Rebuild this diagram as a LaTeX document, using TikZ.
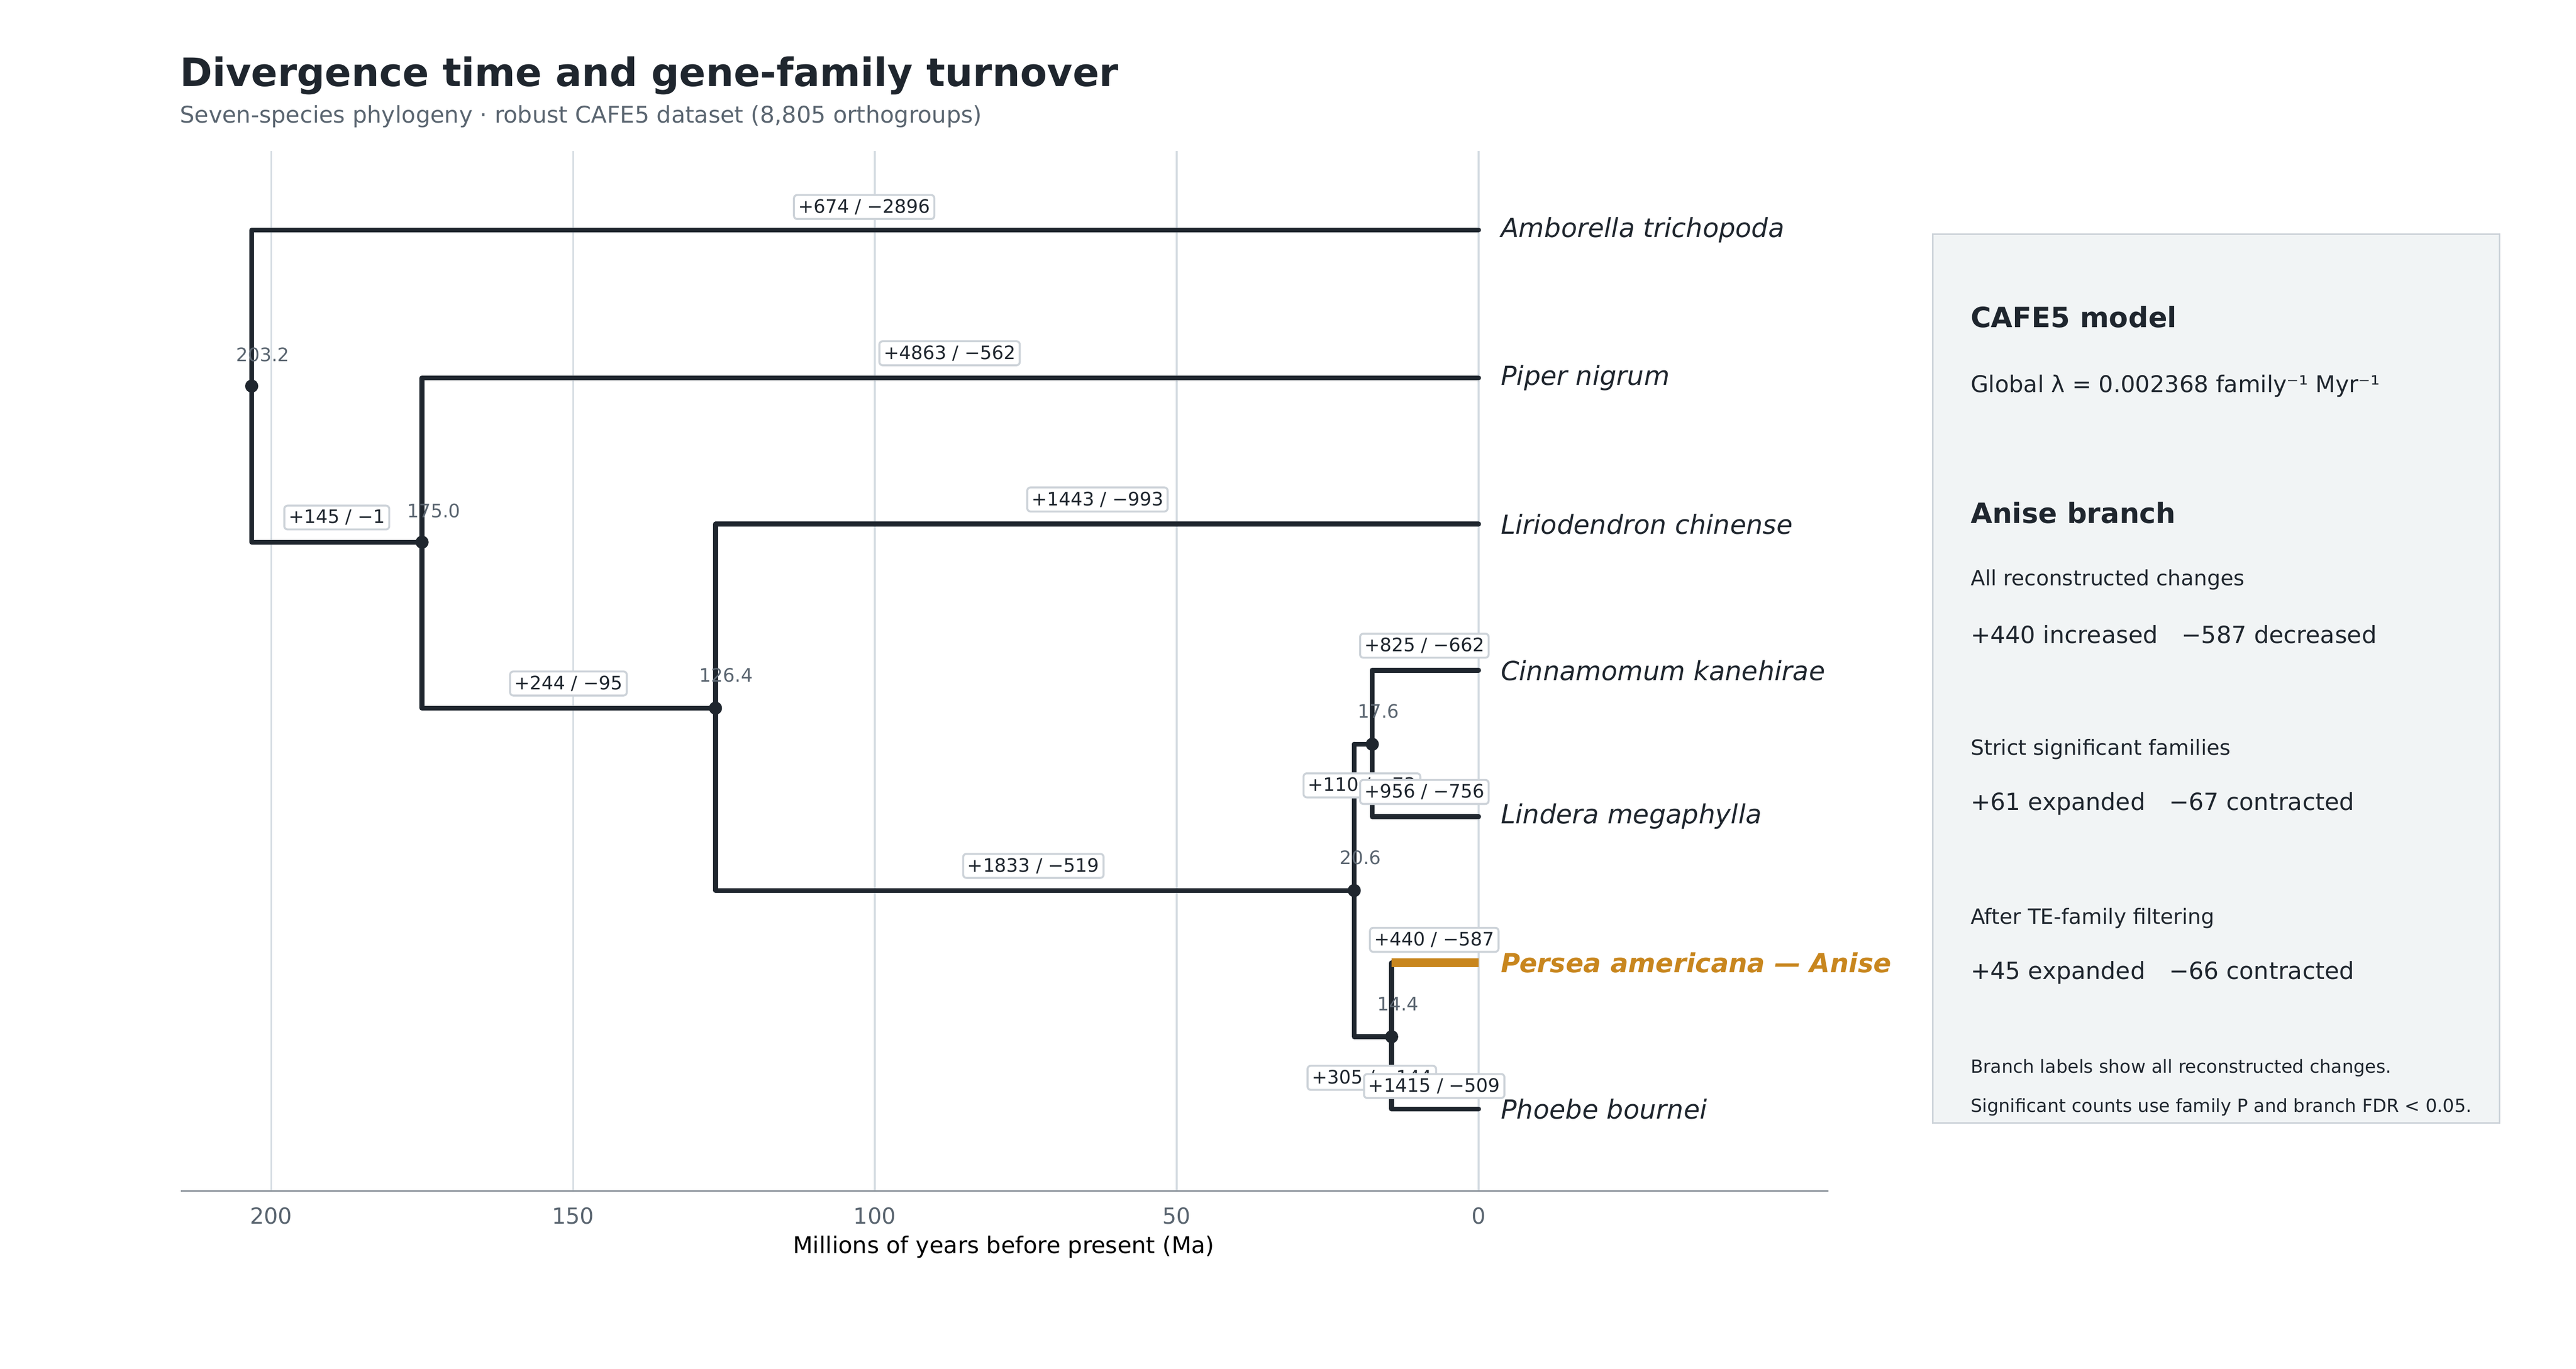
\documentclass[tikz,border=0pt]{standalone}
\usepackage{fontspec}
\setmainfont{DejaVu Sans}
\begin{document}
\begin{tikzpicture}[x=1pt,y=-1pt,
  br/.style={line width=3pt,draw=dark,line cap=round,line join=round},
  lab/.style={draw=boxb,fill=white,rounded corners=2pt,line width=1.2pt,inner sep=2.6pt,font=\fontsize{11.3}{13}\selectfont,text=dark},
  age/.style={font=\fontsize{11.3}{13}\selectfont,text=agec},
  tip/.style={anchor=west,font=\fontsize{16}{19}\itshape,text=dark},
  dot/.style={circle,fill=dark,inner sep=0pt,minimum size=8pt},
  ptxt/.style={anchor=west,font=\fontsize{14}{16}\selectfont,text=dark}]
\definecolor{dark}{HTML}{1F262E}
\definecolor{agec}{HTML}{5A6570}
\definecolor{boxb}{HTML}{CDD3D9}
\definecolor{gridc}{HTML}{D5DCE2}
\definecolor{orng}{HTML}{C8861E}
\definecolor{panel}{HTML}{F1F4F5}
\useasboundingbox (0,0) rectangle (1568,833);
% grid
\foreach \t in {0,50,100,150,200}{
  \draw[gridc,line width=1pt] ({900-3.675*\t},92) -- ({900-3.675*\t},725);
  \node[font=\fontsize{13.5}{15}\selectfont,text=agec] at ({900-3.675*\t},740) {\t};}
\draw[agec!70,line width=1pt] (110,725) -- (1113,725);
\node[font=\fontsize{14}{16}\selectfont] at (611,759) {Millions of years before present (Ma)};
% title
\node[anchor=west,font=\fontsize{23.8}{28}\bfseries,text=dark] at (106,46) {Divergence time and gene-family turnover};
\node[anchor=west,font=\fontsize{14}{16}\selectfont,text=agec] at (106,71) {Seven-species phylogeny · robust CAFE5 dataset (8,805 orthogroups)};
% coordinates
\coordinate (r) at (153.2,235);
\coordinate (n175) at (256.9,330);
\coordinate (n126) at (435.5,431);
\coordinate (n206) at (824.3,542);
\coordinate (n176) at (835.3,453);
\coordinate (n144) at (847.1,631);
\coordinate (amb) at (900,140);
\coordinate (pip) at (900,230);
\coordinate (lir) at (900,319);
\coordinate (cin) at (900,408);
\coordinate (lin) at (900,497);
\coordinate (per) at (900,586);
\coordinate (pho) at (900,675);
% branches
\draw[br] (amb) -- (r|-amb) -- (r|-n175) -- (n175);
\draw[br] (pip) -- (n175|-pip) -- (n175|-n126) -- (n126);
\draw[br] (lir) -- (n126|-lir) -- (n126|-n206) -- (n206);
\draw[br] (n176|-cin) -- (cin);
\draw[br] (n176|-cin) -- (n176|-lin) -- (lin);
\draw[br] (n206|-n176) -- (n176);
\draw[br] (n206|-n176) -- (n206|-n144) -- (n144);
\draw[br] (n144|-per) -- (n144|-pho) -- (pho);
\draw[line width=5.5pt,draw=orng] (n144|-per) -- (per);
% dots
\foreach \n in {r,n175,n126,n206,n176,n144} \node[dot] at (\n) {};
% ages
\node[age] at (160,216) {203.2};
\node[age] at (264,311) {175.0};
\node[age] at (442,411) {126.4};
\node[age] at (839,433) {17.6};
\node[age] at (828,522) {20.6};
\node[age] at (851,611) {14.4};
% branch labels
\node[lab] at (526,126) {+674 / −2896};
\node[lab] at (578,215) {+4863 / −562};
\node[lab] at (668,304) {+1443 / −993};
\node[lab] at (205,315) {+145 / −1};
\node[lab] at (346,416) {+244 / −95};
\node[lab] at (867,393) {+825 / −662};
\node[lab] at (829,478) {+110 / −73};
\node[lab] at (867,482) {+956 / −756};
\node[lab] at (629,527) {+1833 / −519};
\node[lab] at (873,572) {+440 / −587};
\node[lab] at (835,656) {+305 / −144};
\node[lab] at (873,661) {+1415 / −509};
% tips
\node[tip] at (910,140) {Amborella trichopoda};
\node[tip] at (910,230) {Piper nigrum};
\node[tip] at (910,319) {Liriodendron chinense};
\node[tip] at (910,408) {Cinnamomum kanehirae};
\node[tip] at (910,497) {Lindera megaphylla};
\node[tip,text=orng,font=\fontsize{16}{19}\bfseries\itshape] at (910,586) {Persea americana — Anise};
\node[tip] at (910,675) {Phoebe bournei};
% panel
\node[draw=boxb,fill=panel,line width=1pt,minimum width=345pt,minimum height=541pt,anchor=north west,inner sep=0pt] (panel) at (1176,142) {};
\node[ptxt,font=\fontsize{17}{20}\bfseries] at (1196,193) {CAFE5 model};
\node[ptxt] at (1196,235) {Global λ = 0.002368 family⁻¹ Myr⁻¹};
\node[ptxt,font=\fontsize{17}{20}\bfseries] at (1196,312) {Anise branch};
\node[ptxt,font=\fontsize{12.8}{15}\selectfont] at (1196,353) {All reconstructed changes};
\node[ptxt,font=\fontsize{14.4}{17}\selectfont] at (1196,386) {+440 increased\quad −587 decreased};
\node[ptxt,font=\fontsize{12.8}{15}\selectfont] at (1196,456) {Strict significant families};
\node[ptxt,font=\fontsize{14.4}{17}\selectfont] at (1196,489) {+61 expanded\quad −67 contracted};
\node[ptxt,font=\fontsize{12.8}{15}\selectfont] at (1196,559) {After TE-family filtering};
\node[ptxt,font=\fontsize{14.4}{17}\selectfont] at (1196,592) {+45 expanded\quad −66 contracted};
\node[ptxt,font=\fontsize{11}{13}\selectfont] at (1196,650) {Branch labels show all reconstructed changes.};
\node[ptxt,font=\fontsize{11}{13}\selectfont] at (1196,674) {Significant counts use family P and branch FDR < 0.05.};
\end{tikzpicture}
\end{document}
